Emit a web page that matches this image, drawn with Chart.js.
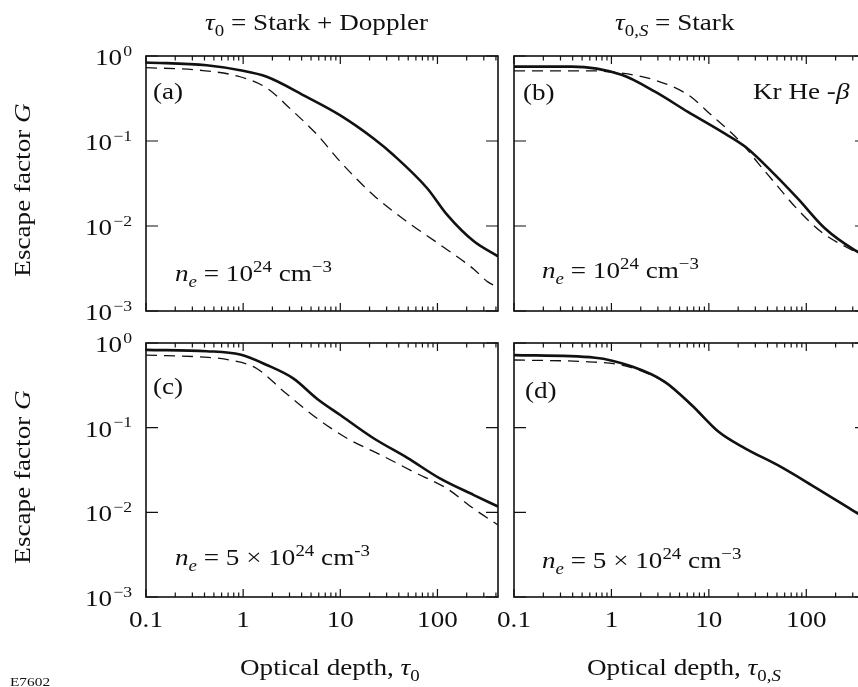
<!DOCTYPE html>
<html>
<head>
<meta charset="utf-8">
<script src="https://cdn.jsdelivr.net/npm/chart.js@4.4.0/dist/chart.umd.min.js"></script>
<style>
  html, body { margin: 0; padding: 0; background: #fff; }
  #wrap { position: relative; width: 858px; height: 687px; overflow: hidden; background: #fff; }
  #wrap canvas { position: absolute; left: 0; top: 0; }
  .t { position: absolute; font-family: "Liberation Serif", serif; font-size: 23px; line-height: 1; color: #111;
       white-space: nowrap; transform: scaleX(1.18); transform-origin: 0 0; }
  .t sub, .t sup, .rot sub { position: relative; vertical-align: baseline; line-height: 0; font-size: 16px; }
  .t sub, .rot sub { top: 6px; }
  .t sup { top: -9px; }
  .rot { position: absolute; width: 0; height: 0; }
  .rot span { position: absolute; left: 0; top: 0; font-family: "Liberation Serif", serif; font-size: 23px; line-height: 1;
              color: #111; white-space: nowrap; transform: translate(-50%, -50%) rotate(-90deg) scaleX(1.18); }
  .small { font-size: 13px; }
</style>
</head>
<body>
<div id="wrap">
  <canvas id="panelA" width="880" height="687"></canvas>
  <canvas id="panelB" width="880" height="687"></canvas>
  <canvas id="panelC" width="880" height="687"></canvas>
  <canvas id="panelD" width="880" height="687"></canvas>

  <div class="t" style="left:205px; top:11px;"><i>τ</i><sub>0</sub> = Stark + Doppler</div>
  <div class="t" style="left:615px; top:11px;"><i>τ</i><sub>0,<i>S</i></sub> = Stark</div>

  <div class="rot" style="left:22px; top:190px;"><span>Escape factor <i>G</i></span></div>
  <div class="rot" style="left:22px; top:477px;"><span>Escape factor <i>G</i></span></div>

  <div class="t" style="left:153px; top:80px;">(a)</div>
  <div class="t" style="left:523px; top:81px;">(b)</div>
  <div class="t" style="left:153px; top:375px;">(c)</div>
  <div class="t" style="left:525px; top:379px;">(d)</div>
  <div class="t" style="left:753px; top:80px;">Kr He -<i>β</i></div>

  <div class="t" style="left:175px; top:262px;"><i>n</i><sub><i>e</i></sub> = 10<sup>24</sup> cm<sup>−3</sup></div>
  <div class="t" style="left:542px; top:259px;"><i>n</i><sub><i>e</i></sub> = 10<sup>24</sup> cm<sup>−3</sup></div>
  <div class="t" style="left:175px; top:546px;"><i>n</i><sub><i>e</i></sub> = 5 × 10<sup>24</sup> cm<sup>-3</sup></div>
  <div class="t" style="left:542px; top:549px;"><i>n</i><sub><i>e</i></sub> = 5 × 10<sup>24</sup> cm<sup>−3</sup></div>

  <div class="t" style="left:240px; top:656px;">Optical depth, <i>τ</i><sub>0</sub></div>
  <div class="t" style="left:587px; top:656px;">Optical depth, <i>τ</i><sub>0,<i>S</i></sub></div>
  <div class="t small" style="left:10px; top:675px;">E7602</div>
</div>

<script>
// axis ticks
const xTickValues = [0.1, 1, 10, 100];
const xTickLabels = ['0.1', '1', '10', '100'];
const yTickValues = [1, 0.1, 0.01, 0.001];
const yTickExponents = ['0', '\u22121', '\u22122', '\u22123'];

// (a) tau0 = Stark + Doppler, ne = 1e24
const aSolidTau = [0.1, 0.42, 0.93, 1.75, 4.5, 10, 22, 35.5, 78, 126, 237, 420];
const aSolidG   = [0.84, 0.78, 0.68, 0.57, 0.33, 0.20, 0.107, 0.068, 0.028, 0.0135, 0.0066, 0.0044];
const aDashTau  = [0.1, 0.36, 0.93, 1.75, 3.05, 5.8, 10, 22, 48.7, 107, 237, 330, 420];
const aDashG    = [0.73, 0.68, 0.57, 0.42, 0.24, 0.118, 0.057, 0.023, 0.0112, 0.006, 0.0031, 0.0022, 0.0019];

// (b) tau0,S = Stark, ne = 1e24
const bSolidTau = [0.1, 0.39, 1.27, 2.8, 6.1, 13.5, 23.5, 44, 82, 155, 314, 420];
const bSolidG   = [0.75, 0.75, 0.60, 0.38, 0.22, 0.129, 0.086, 0.044, 0.021, 0.0094, 0.0052, 0.0044];
const bDashTau  = [0.1, 0.57, 1.27, 2.8, 6.1, 10.7, 17, 23, 32, 50, 80, 143, 314, 420];
const bDashG    = [0.67, 0.67, 0.63, 0.52, 0.35, 0.20, 0.125, 0.088, 0.055, 0.030, 0.016, 0.0085, 0.0050, 0.0042];

// (c) tau0 = Stark + Doppler, ne = 5e24
const cSolidTau = [0.1, 0.42, 0.93, 1.75, 3.3, 5.75, 10, 22, 49, 107, 237, 420];
const cSolidG   = [0.83, 0.80, 0.73, 0.55, 0.38, 0.22, 0.141, 0.075, 0.044, 0.025, 0.016, 0.0117];
const cDashTau  = [0.1, 0.4, 0.73, 1.38, 2.6, 5.75, 11.7, 25.8, 57, 126, 237, 420];
const cDashG    = [0.72, 0.68, 0.63, 0.50, 0.27, 0.129, 0.075, 0.048, 0.030, 0.019, 0.011, 0.0071];

// (d) tau0,S = Stark, ne = 5e24
const dSolidTau = [0.1, 0.68, 1.6, 3.5, 6.65, 12.5, 23.5, 51, 113, 314, 420];
const dSolidG   = [0.72, 0.67, 0.53, 0.35, 0.185, 0.090, 0.057, 0.036, 0.021, 0.0102, 0.0083];
const dDashTau  = [0.1, 0.58, 1.27, 2.2, 3.5, 6.65, 12.5, 23.5, 51, 113, 314, 420];
const dDashG    = [0.63, 0.60, 0.55, 0.45, 0.345, 0.183, 0.089, 0.057, 0.036, 0.021, 0.0102, 0.0083];

const STRETCH = 1.18;   // the scanned figure is wider than it is tall
const FONT = '"Liberation Serif", serif';
const INK = '#111';

function pts(xs, ys) {
  return xs.map((x, i) => ({ x: x, y: ys[i] }));
}

function textWidth(ctx, text, size) {
  ctx.font = size + 'px ' + FONT;
  return ctx.measureText(text).width * STRETCH;
}

function wideText(ctx, text, x, y, size) {
  ctx.save();
  ctx.font = size + 'px ' + FONT;
  ctx.translate(x, y);
  ctx.scale(STRETCH, 1);
  ctx.fillText(text, 0, 0);
  ctx.restore();
}

// box, inward ticks and tick labels
const panelFrame = {
  id: 'panelFrame',
  afterDatasetsDraw(chart, args, opts) {
    const ctx = chart.ctx;
    const a = chart.chartArea;
    const xs = chart.scales.x, ys = chart.scales.y;
    ctx.save();
    ctx.strokeStyle = INK;
    ctx.fillStyle = INK;
    ctx.textAlign = 'left';
    ctx.textBaseline = 'alphabetic';

    ctx.lineWidth = 1.2;
    ctx.beginPath();
    xTickValues.forEach(d => {
      for (let m = 1; m <= 9; m++) {
        const v = d * m;
        if (v > xs.max) break;
        const px = xs.getPixelForValue(v);
        const len = m === 1 ? 8 : 4.5;
        ctx.moveTo(px, a.bottom); ctx.lineTo(px, a.bottom - len);
        ctx.moveTo(px, a.top); ctx.lineTo(px, a.top + len);
      }
    });
    yTickValues.forEach(v => {
      const py = ys.getPixelForValue(v);
      ctx.moveTo(a.left, py); ctx.lineTo(a.left + 12, py);
      ctx.moveTo(a.right, py); ctx.lineTo(a.right - 12, py);
    });
    ctx.stroke();

    ctx.lineWidth = 1.6;
    ctx.strokeRect(a.left, a.top, a.right - a.left, a.bottom - a.top);

    if (opts.yLabels) {
      yTickValues.forEach((v, i) => {
        const py = ys.getPixelForValue(v);
        const baseW = textWidth(ctx, '10', 23);
        const expW = textWidth(ctx, yTickExponents[i], 15);
        const left = a.left - 15 - expW - baseW;
        wideText(ctx, '10', left, py + 9, 23);
        wideText(ctx, yTickExponents[i], left + baseW + 1, py - 0.5, 15);
      });
    }
    if (opts.xLabels) {
      xTickValues.forEach((v, i) => {
        const px = xs.getPixelForValue(v);
        const w = textWidth(ctx, xTickLabels[i], 23);
        wideText(ctx, xTickLabels[i], px - w / 2, a.bottom + 30, 23);
      });
    }
    ctx.restore();
  }
};

function makePanel(id, padding, solid, dashed, xLabels, yLabels) {
  return new Chart(document.getElementById(id), {
    type: 'line',
    data: {
      datasets: [
        { data: solid, borderColor: INK, borderWidth: 2.6, pointRadius: 0, fill: false,
          cubicInterpolationMode: 'monotone' },
        { data: dashed, borderColor: INK, borderWidth: 1.3, borderDash: [11, 7], pointRadius: 0, fill: false,
          cubicInterpolationMode: 'monotone' }
      ]
    },
    options: {
      responsive: false,
      animation: false,
      events: [],
      layout: { padding: padding },
      plugins: {
        legend: { display: false },
        tooltip: { enabled: false },
        panelFrame: { xLabels: xLabels, yLabels: yLabels }
      },
      scales: {
        x: { type: 'logarithmic', min: 0.1, max: 420, display: false },
        y: { type: 'logarithmic', min: 0.001, max: 1, display: false }
      }
    },
    plugins: [panelFrame]
  });
}

// canvases are 880 wide so the right-hand panels run past the page edge
makePanel('panelA', { left: 146, top: 56, right: 382, bottom: 376 },
  pts(aSolidTau, aSolidG), pts(aDashTau, aDashG), false, true);
makePanel('panelB', { left: 514, top: 56, right: 13, bottom: 376 },
  pts(bSolidTau, bSolidG), pts(bDashTau, bDashG), false, false);
makePanel('panelC', { left: 146, top: 343, right: 382, bottom: 90 },
  pts(cSolidTau, cSolidG), pts(cDashTau, cDashG), true, true);
makePanel('panelD', { left: 514, top: 343, right: 13, bottom: 90 },
  pts(dSolidTau, dSolidG), pts(dDashTau, dDashG), true, false);
</script>
</body>
</html>
